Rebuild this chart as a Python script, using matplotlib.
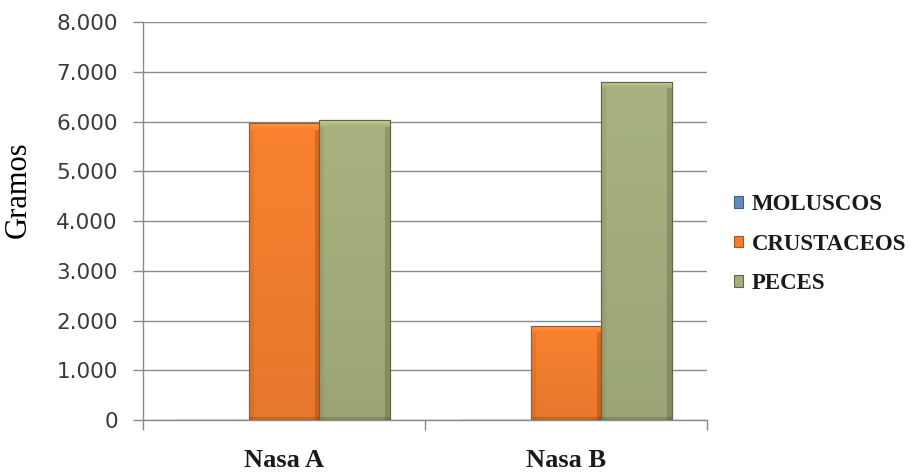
"""Captura por nasa: gramos de moluscos, crustaceos y peces."""

import numpy as np
import matplotlib

matplotlib.use("Agg")
import matplotlib.pyplot as plt  # noqa: E402
from matplotlib.colors import to_rgb  # noqa: E402
from matplotlib.ticker import FuncFormatter, FixedLocator  # noqa: E402

nasas = ["Nasa A", "Nasa B"]
grupos = ["MOLUSCOS", "CRUSTACEOS", "PECES"]
moluscos = [0, 0]
crustaceos = [5970, 1900]
peces = [6030, 6800]
y_ticks = [0, 1000, 2000, 3000, 4000, 5000, 6000, 7000, 8000]

colores = ["#5f8bb5", "#f27e2e", "#a4ad7c"]
bordes = ["#3c628c", "#a9541c", "#5f6644"]


def biselar(ax, rect, color, bisel=7):
    """Relleno con bisel: borde superior claro, laterales y base oscuros."""
    x0, y0 = rect.get_x(), rect.get_y()
    w, h = rect.get_width(), rect.get_height()
    if h <= 0:
        return
    (px0, py0), (px1, py1) = ax.transData.transform([(x0, y0), (x0 + w, y0 + h)])
    nx, ny = max(int(px1 - px0), 2), max(int(py1 - py0), 2)
    xx, yy = np.meshgrid(np.arange(nx), np.arange(ny))
    base = np.array(to_rgb(color))
    # gradiente vertical suave (mas oscuro hacia abajo)
    f = 1.03 - 0.08 * (yy / ny)
    # franja superior clara que se desvanece
    top = yy < bisel
    f = np.where(top, 1.0 + 0.18 * (1 - yy / bisel), f)
    f = np.where((xx < bisel * 0.6) & ~top, f * 0.94, f)
    f = np.where((xx >= nx - bisel * 0.8) & ~top, f * 0.84, f)
    f = np.where(yy >= ny - 3, f * 0.86, f)
    img = np.clip(base[None, None, :] * f[..., None], 0, 1)
    im = ax.imshow(img, extent=(x0, x0 + w, y0, y0 + h), origin="upper",
                   aspect="auto", interpolation="bilinear", zorder=3.5)
    im.set_clip_path(rect)


fig = plt.figure(figsize=(9.16, 4.76), dpi=100)
ax = fig.add_axes([0.156, 0.1176, 0.616, 0.836])

x = np.arange(len(nasas))
ancho = 0.25
series = [moluscos, crustaceos, peces]
ax.set_xlim(-0.5, len(nasas) - 0.5)
ax.set_ylim(0, 8000)

barras = []
for i, (nombre, vals) in enumerate(zip(grupos, series)):
    b = ax.bar(x + (i - 1) * ancho, vals, width=ancho, color=colores[i],
               edgecolor=bordes[i], linewidth=0.8, label=nombre, zorder=3)
    barras.append(b)

for i, b in enumerate(barras):
    for rect in b.patches:
        biselar(ax, rect, colores[i])
        # contorno encima del relleno
        ax.add_patch(plt.Rectangle((rect.get_x(), rect.get_y()),
                                   rect.get_width(), rect.get_height(),
                                   fill=False, edgecolor=bordes[i],
                                   linewidth=0.8, zorder=4))

ax.set_yticks(y_ticks)
ax.yaxis.set_major_formatter(
    FuncFormatter(lambda v, _: f"{int(v):,}".replace(",", ".")))
ax.grid(axis="y", color="#8a8a8a", linewidth=1.0, zorder=0)

# categorias centradas, marcas en los limites de cada grupo
ax.set_xticks(x)
ax.set_xticklabels(nasas, family="Liberation Serif", fontsize=19,
                   fontweight="bold", color="#1a1a1a")
ax.xaxis.set_minor_locator(FixedLocator([-0.5, 0.5, 1.5]))
ax.tick_params(axis="x", which="major", length=0, pad=21)
ax.tick_params(axis="x", which="minor", length=7, color="#8a8a8a", width=1)
ax.tick_params(axis="y", length=7, color="#8a8a8a", width=1, pad=11,
               labelsize=15.5, labelcolor="#3a3a3a")

for lado in ("top", "right"):
    ax.spines[lado].set_visible(False)
for lado in ("left", "bottom"):
    ax.spines[lado].set_color("#8a8a8a")
    ax.spines[lado].set_linewidth(1.0)

ax.set_ylabel("Gramos", family="Liberation Serif", fontsize=22)
ax.yaxis.set_label_coords(-0.195, 0.578)

leg = ax.legend(loc="center left", bbox_to_anchor=(0.801, 0.487),
                bbox_transform=fig.transFigure, frameon=False,
                borderpad=0, borderaxespad=0,
                handlelength=0.4, handleheight=0.42, handletextpad=0.4,
                labelspacing=0.82,
                prop={"family": "Liberation Serif", "size": 16.5,
                      "weight": "bold"})
for t in leg.get_texts():
    t.set_color("#1a1a1a")

fig.savefig("out.png", dpi=100)
